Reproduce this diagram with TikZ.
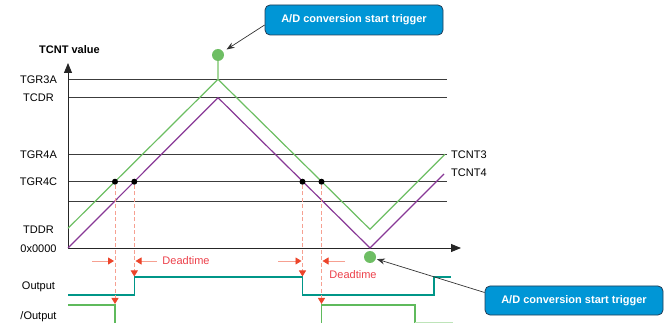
\documentclass[tikz,border=0pt]{standalone}
\usepackage{fontspec}
\setmainfont{Liberation Sans}
\usetikzlibrary{arrows.meta,calc}

\definecolor{greenwave}{RGB}{108,190,98}
\definecolor{purplewave}{RGB}{136,56,150}
\definecolor{tealout}{RGB}{0,150,136}
\definecolor{greenout}{RGB}{95,186,92}
\definecolor{paleout}{RGB}{190,228,185}
\definecolor{stemgreen}{RGB}{165,215,155}
\definecolor{dotgreen}{RGB}{110,190,100}
\definecolor{boxblue}{RGB}{0,150,214}
\definecolor{boxedge}{RGB}{35,60,85}
\definecolor{headred}{RGB}{236,68,42}
\definecolor{shaftred}{RGB}{246,160,145}
\definecolor{textred}{RGB}{236,64,74}
\definecolor{levelgray}{RGB}{60,60,60}

\begin{document}
\begin{tikzpicture}[x=1pt,y=-1pt,
  font=\fontsize{11}{13}\selectfont,
  lab/.style={inner sep=0pt,text height=7.9pt,text depth=0pt},
  levelline/.style={draw=levelgray,line width=0.9pt},
  axisline/.style={draw=black!85,line width=0.9pt,-{Triangle[length=10pt,width=8pt]}},
  tcntthree/.style={draw=greenwave,line width=1.2pt},
  tcntfour/.style={draw=purplewave,line width=1.2pt},
  outsig/.style={draw=tealout,line width=1.4pt},
  noutsig/.style={draw=greenout,line width=1.4pt},
  crossdot/.style={circle,fill=black,inner sep=0pt,minimum size=6pt},
  trigdot/.style={circle,fill=dotgreen,inner sep=0pt,minimum size=12pt},
  deadline/.style={draw=shaftred,line width=0.9pt,dash pattern=on 4pt off 2.5pt,
    -{Triangle[length=6pt,width=7pt,color=headred]}},
  deadarrow/.style={draw=shaftred,line width=0.9pt,
    -{Triangle[length=6pt,width=7pt,color=headred]}},
  deadlabel/.style={text=textred,inner sep=0pt,text height=7.9pt,text depth=0pt},
  callout/.style={rounded corners=5pt,fill=boxblue,draw=boxedge,line width=0.8pt,
    text=white,font=\fontsize{11}{13}\selectfont\bfseries,
    minimum width=178pt,minimum height=30pt,inner sep=0pt},
  callarrow/.style={draw=black!80,line width=0.7pt,-{Stealth[length=8pt,width=6pt]}}
]
\useasboundingbox (0,0) rectangle (667,323);

% level lines
\foreach \y in {79.3,97.7,154.3,181.7,201.7}
  \draw[levelline] (68,\y) -- (447,\y);

% axes
\coordinate (origin) at (68,248);
\coordinate (ytip) at (68,63);
\coordinate (xtip) at (461,248);
\draw[axisline] (origin) -- (ytip);
\draw[axisline] (origin) -- (xtip);

% level labels
\node[lab,font=\fontsize{11}{13}\selectfont\bfseries] (title) at (69.5,50) {TCNT value};
\node[lab] (ltgrthreea) at (38.5,79.3) {TGR3A};
\node[lab] (ltcdr) at (38.5,97.7) {TCDR};
\node[lab] (ltgrfoura) at (38.5,154.3) {TGR4A};
\node[lab] (ltgrfourc) at (38.5,181.7) {TGR4C};
\node[lab] (ltddr) at (38.5,230) {TDDR};
\node[lab] (lzero) at (38.5,249) {0x0000};
\node[lab] (lout) at (38.5,286) {Output};
\node[lab] (lnout) at (38.5,315.5) {/Output};

% counters
\draw[tcntthree] (68,228.3) -- (218,79.3) -- (370,229.3) -- (445,154.3);
\draw[tcntfour] (68,248) -- (218,97.7) -- (370,248) -- (444,174);
\node[lab,anchor=west] (ltcntthree) at (451,154.3) {TCNT3};
\node[lab,anchor=west] (ltcntfour) at (451,173) {TCNT4};

% trigger points
\node[trigdot] (trigtop) at (218,55) {};
\coordinate (peak) at (218,79.3);
\draw[draw=stemgreen,line width=1.6pt] (trigtop) -- (peak);
\node[trigdot] (trigbot) at (370,257) {};

% compare-match points on TGR4C
\node[crossdot] (cm1) at (115,181.7) {};
\node[crossdot] (cm2) at (134.3,181.7) {};
\node[crossdot] (cm3) at (302.5,181.7) {};
\node[crossdot] (cm4) at (321.5,181.7) {};

% output waveforms
\draw[outsig] (68,295) -| (134.3,277) -| (302.5,295) -| (434,277) -- (451,277);
\draw[noutsig] (68,305) -| (115,326);
\draw[noutsig] (321.5,326) |- (415,305) -- (415,324);
\draw[draw=paleout,line width=1.4pt] (415,322.5) -- (453,322.5);

% dead-time markers
\coordinate (e1) at (115,304);
\coordinate (e2) at (134.3,276.5);
\coordinate (e3) at (302.5,276.5);
\coordinate (e4) at (321.5,304);
\draw[deadline] (cm1) -- (e1);
\draw[deadline] (cm2) -- (e2);
\draw[deadline] (cm3) -- (e3);
\draw[deadline] (cm4) -- (e4);

\coordinate (a1s) at (92,261);   \coordinate (a1e) at (114,261);
\coordinate (a2s) at (157,261);  \coordinate (a2e) at (135.5,261);
\coordinate (a3s) at (278,261);  \coordinate (a3e) at (301.5,261);
\coordinate (a4s) at (345,261);  \coordinate (a4e) at (322.5,261);
\draw[deadarrow] (a1s) -- (a1e);
\draw[deadarrow] (a2s) -- (a2e);
\draw[deadarrow] (a3s) -- (a3e);
\draw[deadarrow] (a4s) -- (a4e);
\node[deadlabel] (dt1) at (186,261) {Deadtime};
\node[deadlabel] (dt2) at (353,275) {Deadtime};

% A/D trigger callouts
\node[callout] (cbtop) at (354,20) {A/D conversion start trigger};
\node[callout,minimum height=29pt] (cbbot) at (574,300.5) {A/D conversion start trigger};
\draw[callarrow,shorten >=4pt] ([yshift=-5pt]cbtop.west) -- (trigtop);
\draw[callarrow,shorten >=1pt] ([yshift=8pt]cbbot.west) -- (trigbot);
\end{tikzpicture}
\end{document}
